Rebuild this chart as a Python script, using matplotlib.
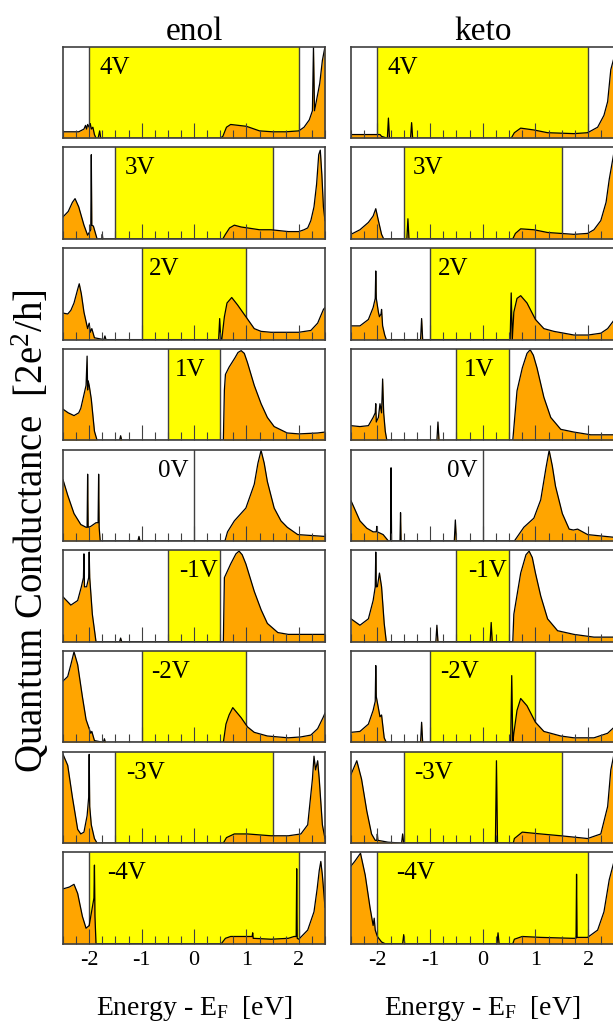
import matplotlib
matplotlib.use("Agg")
import matplotlib.pyplot as plt
from matplotlib.ticker import MultipleLocator

# ==========================================================
# DATA  (energy in eV, conductance, 0-1 of panel height)
# ==========================================================

biases = [4, 3, 2, 1, 0, -1, -2, -3, -4]
bias_labels = ["4V", "3V", "2V", "1V", "0V", "-1V", "-2V", "-3V", "-4V"]
columns = ["enol", "keto"]
x_ticks = [-2, -1, 0, 1, 2]

# ---- enol ----
enol_4V_E = [-2.5, -2.2, -2.1, -2.07, -2.05, -2.03, -2.0, -1.98, -1.96, -1.93, -1.9, -1.87, -1.83, -1.8, -1.78, -1.75,
             0.5, 0.55, 0.62, 0.7, 0.85, 1.0, 1.15, 1.25, 1.5, 1.75, 2.0, 2.1, 2.2, 2.26, 2.28, 2.3, 2.35, 2.4, 2.45, 2.5]
enol_4V_G = [0.07, 0.07, 0.1, 0.14, 0.1, 0.15, 0.12, 0.16, 0.1, 0.12, 0.04, 0.0, 0.0, 0.08, 0.0, 0.0,
             0.0, 0.02, 0.12, 0.15, 0.14, 0.13, 0.1, 0.08, 0.07, 0.07, 0.08, 0.12, 0.2, 0.3, 1.0, 0.3, 0.45, 0.6, 0.85, 1.0]

enol_3V_E = [-2.5, -2.4, -2.32, -2.27, -2.2, -2.1, -2.03, -1.97, -1.96, -1.95, -1.92, -1.88, -1.85, -1.76, -1.75, -1.74,
             0.55, 0.6, 0.68, 0.77, 0.9, 1.02, 1.25, 1.47, 1.8, 2.0, 2.1, 2.17, 2.23, 2.29, 2.34, 2.38, 2.41, 2.44, 2.47, 2.5]
enol_3V_G = [0.24, 0.3, 0.4, 0.44, 0.35, 0.15, 0.04, 0.1, 0.92, 0.15, 0.14, 0.06, 0.0, 0.0, 0.05, 0.0,
             0.0, 0.05, 0.12, 0.15, 0.13, 0.12, 0.1, 0.1, 0.08, 0.08, 0.1, 0.12, 0.2, 0.35, 0.6, 0.92, 0.97, 0.7, 0.35, 0.2]

enol_2V_E = [-2.5, -2.41, -2.35, -2.29, -2.22, -2.19, -2.15, -2.1, -2.03, -2.0, -1.98, -1.95, -1.9, -1.72, -1.7, -1.68,
             0.47, 0.49, 0.51, 0.53, 0.58, 0.63, 0.72, 0.83, 0.99, 1.15, 1.28, 1.47, 1.8, 2.0, 2.23, 2.36, 2.47, 2.5]
enol_2V_G = [0.29, 0.28, 0.32, 0.4, 0.55, 0.61, 0.5, 0.3, 0.12, 0.18, 0.08, 0.12, 0.02, 0.0, 0.04, 0.0,
             0.0, 0.23, 0.0, 0.0, 0.25, 0.4, 0.46, 0.38, 0.25, 0.12, 0.09, 0.08, 0.08, 0.08, 0.1, 0.18, 0.33, 0.35]

enol_1V_E = [-2.5, -2.4, -2.29, -2.2, -2.16, -2.1, -2.06, -2.04, -2.03, -2.02, -2.0, -1.96, -1.9, -1.85, -1.42, -1.4, -1.38,
             0.56, 0.58, 0.6, 0.67, 0.78, 0.84, 0.9, 0.96, 1.02, 1.15, 1.28, 1.4, 1.53, 1.78, 2.0, 2.36, 2.5]
enol_1V_G = [0.34, 0.3, 0.27, 0.3, 0.35, 0.5, 0.6, 0.92, 0.55, 0.65, 0.6, 0.45, 0.1, 0.0, 0.0, 0.05, 0.0,
             0.0, 0.55, 0.72, 0.8, 0.9, 0.96, 0.98, 0.95, 0.85, 0.6, 0.4, 0.25, 0.15, 0.08, 0.07, 0.08, 0.09]

enol_0V_E = [-2.5, -2.41, -2.29, -2.16, -2.06, -2.04, -2.03, -2.02, -1.97, -1.87, -1.83, -1.82, -1.81, -1.79,
             -1.07, -1.05, -1.03, 0.59, 0.64, 0.77, 0.99, 1.15, 1.22, 1.28, 1.34, 1.4, 1.53, 1.66, 1.78, 1.98, 2.5]
enol_0V_G = [0.67, 0.5, 0.3, 0.18, 0.15, 0.15, 0.73, 0.15, 0.16, 0.2, 0.2, 0.73, 0.15, 0.0,
             0.0, 0.05, 0.0, 0.0, 0.1, 0.22, 0.36, 0.62, 0.85, 0.99, 0.85, 0.65, 0.36, 0.22, 0.15, 0.07, 0.05]

enol_m1V_E = [-2.5, -2.35, -2.22, -2.15, -2.11, -2.1, -2.09, -2.05, -2.01, -2.0, -1.99, -1.94, -1.87, -1.42, -1.4, -1.38,
              0.56, 0.58, 0.7, 0.8, 0.86, 0.92, 0.99, 1.15, 1.28, 1.4, 1.6, 1.8, 2.5]
enol_m1V_G = [0.49, 0.4, 0.45, 0.6, 0.7, 0.96, 0.6, 0.6, 0.7, 0.98, 0.7, 0.3, 0.0, 0.0, 0.04, 0.0,
              0.0, 0.7, 0.85, 0.96, 0.99, 0.95, 0.85, 0.55, 0.35, 0.2, 0.1, 0.08, 0.08]

enol_m2V_E = [-2.5, -2.41, -2.35, -2.29, -2.22, -2.13, -2.06, -2.0, -1.97, -1.95, -1.9, -1.73, -1.71, -1.69,
              0.56, 0.61, 0.67, 0.74, 0.9, 1.02, 1.15, 1.4, 1.8, 2.04, 2.23, 2.36, 2.47, 2.5]
enol_m2V_G = [0.67, 0.72, 0.85, 0.99, 0.85, 0.5, 0.25, 0.15, 0.1, 0.12, 0.02, 0.0, 0.04, 0.0,
              0.0, 0.2, 0.3, 0.38, 0.27, 0.17, 0.11, 0.07, 0.05, 0.06, 0.08, 0.15, 0.28, 0.32]

enol_m3V_E = [-2.5, -2.41, -2.32, -2.22, -2.16, -2.1, -2.04, -2.01, -2.0, -1.99, -1.96, -1.9, -1.85,
              0.56, 0.62, 0.77, 1.02, 1.47, 1.8, 2.04, 2.17, 2.26, 2.29, 2.32, 2.36, 2.39, 2.42, 2.45, 2.5]
enol_m3V_G = [0.97, 0.85, 0.5, 0.15, 0.1, 0.12, 0.3, 0.5, 0.97, 0.4, 0.2, 0.05, 0.0,
              0.0, 0.06, 0.1, 0.1, 0.08, 0.08, 0.1, 0.2, 0.7, 0.95, 0.8, 0.9, 0.7, 0.45, 0.2, 0.05]

enol_m4V_E = [-2.5, -2.38, -2.29, -2.22, -2.13, -2.06, -2.0, -1.94, -1.91, -1.9, -1.89, -1.87,
              0.52, 0.6, 0.7, 1.02, 1.11, 1.12, 1.13, 1.47, 1.8, 1.91, 1.95, 1.96, 1.97, 2.0,
              2.17, 2.29, 2.35, 2.39, 2.42, 2.45, 2.5]
enol_m4V_G = [0.6, 0.62, 0.65, 0.55, 0.3, 0.17, 0.2, 0.4, 0.5, 0.86, 0.3, 0.0,
              0.0, 0.06, 0.08, 0.08, 0.08, 0.12, 0.06, 0.05, 0.06, 0.08, 0.08, 0.82, 0.06, 0.05,
              0.15, 0.35, 0.6, 0.8, 0.9, 0.75, 0.4]

# ---- keto ----
keto_4V_E = [-2.5, -2.0, -1.95, -1.92, -1.81, -1.79, -1.77, -1.37, -1.35, -1.33,
             0.54, 0.6, 0.72, 0.97, 1.23, 1.73, 1.99, 2.18, 2.3, 2.37, 2.43, 2.5]
keto_4V_G = [0.04, 0.04, 0.04, 0.02, 0.0, 0.22, 0.0, 0.0, 0.17, 0.0,
             0.0, 0.06, 0.11, 0.09, 0.06, 0.05, 0.06, 0.12, 0.25, 0.4, 0.75, 0.9]

keto_3V_E = [-2.5, -2.33, -2.17, -2.08, -2.03, -1.98, -1.92, -1.88, -1.44, -1.42, -1.4,
             0.57, 0.62, 0.72, 0.97, 1.23, 1.73, 1.99, 2.11, 2.24, 2.34, 2.4, 2.5]
keto_3V_G = [0.05, 0.1, 0.18, 0.25, 0.33, 0.2, 0.05, 0.0, 0.0, 0.22, 0.0,
             0.0, 0.06, 0.11, 0.1, 0.07, 0.05, 0.06, 0.1, 0.2, 0.4, 0.65, 0.98]

keto_2V_E = [-2.5, -2.33, -2.17, -2.08, -2.04, -2.03, -2.02, -1.98, -1.96, -1.93, -1.92, -1.9, -1.86, -1.83,
             -1.18, -1.16, -1.14, 0.52, 0.54, 0.56, 0.59, 0.65, 0.72, 0.84, 1.0, 1.16, 1.35, 1.73, 2.0, 2.24, 2.37, 2.5]
keto_2V_G = [0.15, 0.15, 0.22, 0.35, 0.45, 0.75, 0.45, 0.3, 0.25, 0.28, 0.33, 0.15, 0.05, 0.0,
             0.0, 0.23, 0.0, 0.0, 0.51, 0.0, 0.3, 0.45, 0.48, 0.4, 0.22, 0.12, 0.09, 0.05, 0.05, 0.07, 0.12, 0.22]

keto_1V_E = [-2.5, -2.33, -2.17, -2.08, -2.04, -2.03, -2.02, -1.98, -1.95, -1.92, -1.9, -1.88, -1.85, -1.82,
             -0.87, -0.85, -0.83, 0.57, 0.65, 0.75, 0.84, 0.9, 0.96, 1.03, 1.16, 1.29, 1.48, 1.73, 2.05, 2.5]
keto_1V_G = [0.16, 0.15, 0.16, 0.25, 0.3, 0.4, 0.2, 0.25, 0.4, 0.3, 0.67, 0.3, 0.1, 0.0,
             0.0, 0.2, 0.0, 0.0, 0.54, 0.79, 0.95, 0.99, 0.93, 0.79, 0.47, 0.25, 0.12, 0.09, 0.06, 0.06]

keto_0V_E = [-2.5, -2.43, -2.33, -2.2, -2.08, -2.02, -2.01, -2.0, -1.89, -1.79, -1.75, -1.74, -1.73,
             -1.57, -1.56, -1.55, -0.54, -0.52, -0.5, 0.6, 0.78, 0.97, 1.1, 1.2, 1.26, 1.32, 1.38, 1.51, 1.64, 1.72,
             1.8, 1.99, 2.5]
keto_0V_G = [0.44, 0.35, 0.22, 0.14, 0.1, 0.1, 0.16, 0.1, 0.07, 0.0, 0.0, 0.8, 0.0,
             0.0, 0.31, 0.0, 0.0, 0.23, 0.0, 0.0, 0.15, 0.25, 0.45, 0.8, 0.99, 0.82, 0.6, 0.3, 0.13, 0.12,
             0.13, 0.07, 0.04]

keto_m1V_E = [-2.5, -2.33, -2.17, -2.08, -2.04, -2.03, -2.02, -2.0, -1.96, -1.92, -1.87, -1.83,
              -0.89, -0.87, -0.85, 0.14, 0.16, 0.18, 0.57, 0.59, 0.72, 0.82, 0.88, 0.94, 1.0, 1.1, 1.23, 1.42,
              1.73, 2.11, 2.5]
keto_m1V_G = [0.25, 0.18, 0.25, 0.45, 0.6, 0.98, 0.6, 0.6, 0.75, 0.6, 0.2, 0.0,
              0.0, 0.18, 0.0, 0.0, 0.21, 0.0, 0.0, 0.3, 0.75, 0.95, 0.99, 0.92, 0.75, 0.5, 0.25, 0.12,
              0.08, 0.05, 0.05]

keto_m2V_E = [-2.5, -2.33, -2.17, -2.08, -2.04, -2.03, -2.02, -1.95, -1.92, -1.87, -1.83, -1.18, -1.16, -1.14,
              0.53, 0.55, 0.57, 0.59, 0.65, 0.72, 0.84, 1.0, 1.16, 1.48, 1.73, 2.11, 2.37, 2.5]
keto_m2V_G = [0.11, 0.12, 0.2, 0.35, 0.45, 0.84, 0.5, 0.28, 0.3, 0.05, 0.0, 0.0, 0.22, 0.0,
              0.0, 0.73, 0.0, 0.1, 0.35, 0.48, 0.4, 0.22, 0.12, 0.07, 0.05, 0.05, 0.1, 0.17]

keto_m3V_E = [-2.5, -2.39, -2.3, -2.2, -2.11, -2.04, -2.01, -2.0, -1.99, -1.89, -1.8, -1.54, -1.52, -1.5,
              0.24, 0.26, 0.28, 0.58, 0.6, 0.75, 1.1, 1.48, 1.99, 2.24, 2.37, 2.43, 2.5]
keto_m3V_G = [0.75, 0.9, 0.7, 0.35, 0.1, 0.03, 0.03, 0.1, 0.03, 0.02, 0.01, 0.0, 0.1, 0.0,
              0.0, 0.9, 0.0, 0.0, 0.05, 0.12, 0.1, 0.08, 0.05, 0.1, 0.4, 0.8, 1.0]

keto_m4V_E = [-2.5, -2.43, -2.32, -2.23, -2.14, -2.08, -2.06, -2.04, -2.0, -1.92, -1.85, -1.52, -1.5, -1.48,
              0.27, 0.29, 0.31, 0.57, 0.6, 0.75, 1.1, 1.7, 1.77, 1.78, 1.79, 1.99, 2.18, 2.3, 2.4, 2.5]
keto_m4V_G = [0.85, 0.9, 0.99, 0.75, 0.4, 0.2, 0.28, 0.15, 0.08, 0.02, 0.0, 0.0, 0.1, 0.0,
              0.0, 0.12, 0.0, 0.0, 0.05, 0.08, 0.07, 0.06, 0.06, 0.76, 0.07, 0.07, 0.15, 0.35, 0.7, 0.92]

enol_E = [enol_4V_E, enol_3V_E, enol_2V_E, enol_1V_E, enol_0V_E, enol_m1V_E, enol_m2V_E, enol_m3V_E, enol_m4V_E]
enol_G = [enol_4V_G, enol_3V_G, enol_2V_G, enol_1V_G, enol_0V_G, enol_m1V_G, enol_m2V_G, enol_m3V_G, enol_m4V_G]
keto_E = [keto_4V_E, keto_3V_E, keto_2V_E, keto_1V_E, keto_0V_E, keto_m1V_E, keto_m2V_E, keto_m3V_E, keto_m4V_E]
keto_G = [keto_4V_G, keto_3V_G, keto_2V_G, keto_1V_G, keto_0V_G, keto_m1V_G, keto_m2V_G, keto_m3V_G, keto_m4V_G]

# where the bias label sits inside each panel (layout only)
label_x = [-1.8, -1.33, -0.86, -0.36, -0.1, 0.45, -0.81, -1.3, -1.65]
label_ha = ["left", "left", "left", "left", "right", "right", "left", "left", "left"]

# ==========================================================
# STYLE
# ==========================================================

plt.rcParams["font.family"] = ["Liberation Serif", "DejaVu Serif"]
plt.rcParams["mathtext.fontset"] = "custom"
plt.rcParams["mathtext.rm"] = "Liberation Serif"
plt.rcParams["axes.unicode_minus"] = False

ORANGE = "#FFA500"
YELLOW = "#FFFF00"
EDGE = "#404040"

W, H = 613, 1024
fig = plt.figure(figsize=(W / 100, H / 100), dpi=100)

col_left = [63, 351]
col_width = [262, 263.5]
row_top0, row_pitch, row_h = 46.7, 100.7, 91.5

# ==========================================================
# PANELS
# ==========================================================

for c, name in enumerate(columns):
    all_E = enol_E if name == "enol" else keto_E
    all_G = enol_G if name == "enol" else keto_G

    for r, v in enumerate(biases):
        top = row_top0 + r * row_pitch
        ax = fig.add_axes([col_left[c] / W, 1 - (top + row_h) / H, col_width[c] / W, row_h / H])

        lo, hi = -abs(v) / 2, abs(v) / 2
        if v != 0:
            ax.axvspan(lo, hi, color=YELLOW, zorder=0.2, lw=0)
            ax.axvline(lo, color=EDGE, lw=1.0, zorder=0.6)
            ax.axvline(hi, color=EDGE, lw=1.0, zorder=0.6)
        else:
            ax.axvline(0, color=EDGE, lw=1.0, zorder=0.6)

        ax.fill_between(all_E[r], all_G[r], 0, color=ORANGE, lw=0, zorder=1.2)
        ax.plot(all_E[r], all_G[r], color="black", lw=0.9, zorder=1.4)

        ax.text(label_x[r], 0.77, bias_labels[r], transform=ax.get_xaxis_transform(),
                ha=label_ha[r], va="center", fontsize=18, zorder=3)

        ax.set_xlim(-2.5, 2.5)
        ax.set_ylim(0, 1.0)
        ax.set_yticks([])
        ax.xaxis.set_major_locator(MultipleLocator(1))
        ax.xaxis.set_minor_locator(MultipleLocator(0.25))
        ax.tick_params(axis="x", which="major", direction="in", length=11, width=0.8,
                       color=EDGE, labelsize=16, pad=5)
        ax.tick_params(axis="x", which="minor", direction="in", length=5.5, width=0.8, color=EDGE)
        ax.set_xticks(x_ticks)
        if r < len(biases) - 1:
            ax.tick_params(axis="x", labelbottom=False)

        for sp in ax.spines.values():
            sp.set_color(EDGE)
            sp.set_linewidth(1.2)

        if r == 0:
            ax.set_title(name, fontsize=24, pad=4)

    # x label under each column
    fig.text((col_left[c] + 131) / W, 1 - 1015 / H, r"Energy - $\mathregular{E_F}$  [eV]",
             ha="center", va="baseline", fontsize=20)

fig.text(31 / W, 1 - 531 / H, r"Quantum Conductance  $\mathregular{[2e^2/h]}$",
         rotation=90, ha="center", va="center", fontsize=28)

fig.savefig("out.png", dpi=100)
